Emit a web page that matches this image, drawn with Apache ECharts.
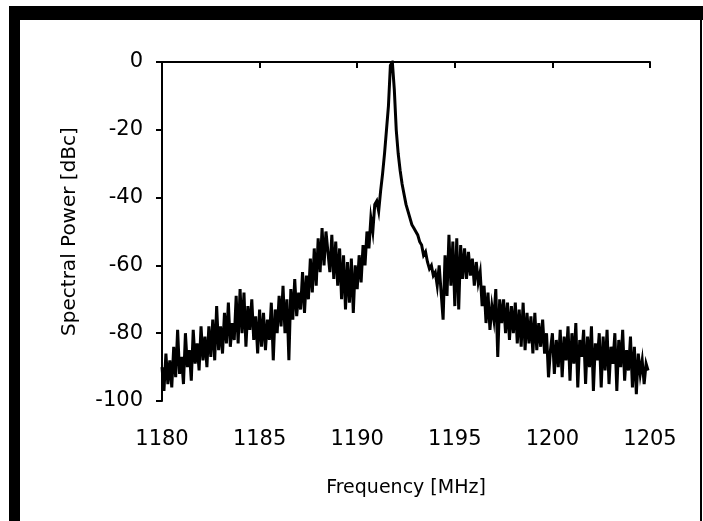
<!DOCTYPE html>
<html>
<head>
<meta charset="utf-8">
<script src="https://cdn.jsdelivr.net/npm/echarts@6/dist/echarts.min.js"></script>
<style>
html,body{margin:0;padding:0;background:#fff;}
#c{width:703px;height:521px;}
</style>
</head>
<body>
<div id="c"></div>
<script>
// Sampling grid of the spectrum (MHz)
var freqStart = 1180.0;
var freqStep = 0.1;
// Spectral power (dBc), one value per 0.1 MHz
var power = [
  -90, -97, -86, -95, -88, -96, -84, -93, -79, -92, -87, -95, -80, -90, -85, -94, -79, -89, -83, -91, -78,
  -88, -81, -90, -78, -87, -76, -88, -72, -85, -78, -86, -74, -83, -71, -84, -77, -82, -69, -83, -67,
  -80, -68, -84, -72, -79, -70, -82, -75, -86, -73, -84, -74, -85, -76, -82, -71, -88, -73, -80, -69,
  -78, -66, -80, -70, -88, -67, -76, -64, -75, -68, -73, -62, -74, -63, -70,
  -58, -68, -55, -66, -52, -62, -49, -60, -50, -56,
  -62, -51, -64, -53, -66, -55, -70, -57, -73, -59, -71, -58, -74,
  -60, -67, -57, -65, -54, -60, -50,
  -55, -46, -50, -42, -41, -44, -38,
  -33, -27, -20, -13, -1, 0, -8, -20,
  -27, -32, -36, -39, -42, -44, -46, -48, -49, -50,
  -51, -53, -54, -57, -56, -59, -61, -60, -63, -62,
  -66, -60, -68, -76, -57, -69, -51, -66, -53, -72, -52, -73, -54, -64, -55,
  -64, -56, -63, -58, -66, -59, -65, -62, -72, -66,
  -77, -68, -79, -72, -76, -67, -87, -70, -77, -70, -80, -71, -82, -72, -80,
  -71, -83, -73, -84, -71, -85, -74, -83, -75, -86, -74, -85, -77, -84, -76, -86, -80, -93,
  -85, -80, -92, -82, -90, -79, -93, -81, -88, -78, -94, -80, -89, -77, -96, -82, -87, -79, -95, -81,
  -90, -78, -97, -83, -88, -80, -96, -81, -91, -79, -95, -84, -89, -80, -97, -82, -90, -79, -94, -85,
  -91, -81, -96, -84, -98, -86, -92, -88, -95, -89, -91
];
var xTitle = 'Frequency [MHz]';
var yTitle = 'Spectral Power [dBc]';

var seriesData = power.map(function (v, i) {
  return [Math.round((freqStart + i * freqStep) * 10) / 10, v];
});

var chart = echarts.init(document.getElementById('c'), null, {renderer: 'canvas'});
var font = 'DejaVu Sans';
chart.setOption({
  animation: false,
  backgroundColor: '#ffffff',
  grid: {left: 162, right: 53, top: 62, bottom: 120, containLabel: false},
  xAxis: {
    type: 'value', min: 1180, max: 1205, interval: 5,
    axisLine: {lineStyle: {color: '#000', width: 2}},
    axisTick: {show: true, inside: false, length: 6, lineStyle: {color: '#000', width: 2}},
    splitLine: {show: false},
    axisLabel: {color: '#000', fontFamily: font, fontSize: 21, margin: 28,
      formatter: function (v) { return String(v); }},
    name: xTitle, nameLocation: 'middle', nameGap: 78,
    nameTextStyle: {color: '#000', fontFamily: font, fontSize: 19}
  },
  yAxis: {
    type: 'value', min: -100, max: 0, interval: 20,
    axisLine: {show: true, lineStyle: {color: '#000', width: 2}},
    axisTick: {show: true, inside: false, length: 6, lineStyle: {color: '#000', width: 2}},
    splitLine: {show: false},
    axisLabel: {color: '#000', fontFamily: font, fontSize: 21, margin: 19,
      formatter: function (v) { return String(v); }},
    name: yTitle, nameLocation: 'middle', nameGap: 82,
    nameTextStyle: {color: '#000', fontFamily: font, fontSize: 20}
  },
  series: [{
    type: 'line',
    data: seriesData,
    showSymbol: false,
    lineStyle: {color: '#000', width: 3, join: 'miter'},
    z: 3
  }],
  graphic: [
    {type: 'rect', shape: {x: 9, y: 6, width: 694, height: 14}, style: {fill: '#000'}, z: 10},
    {type: 'rect', shape: {x: 9, y: 6, width: 11, height: 515}, style: {fill: '#000'}, z: 10},
    {type: 'rect', shape: {x: 700, y: 6, width: 2, height: 515}, style: {fill: '#000'}, z: 10}
  ]
});
</script>
</body>
</html>
